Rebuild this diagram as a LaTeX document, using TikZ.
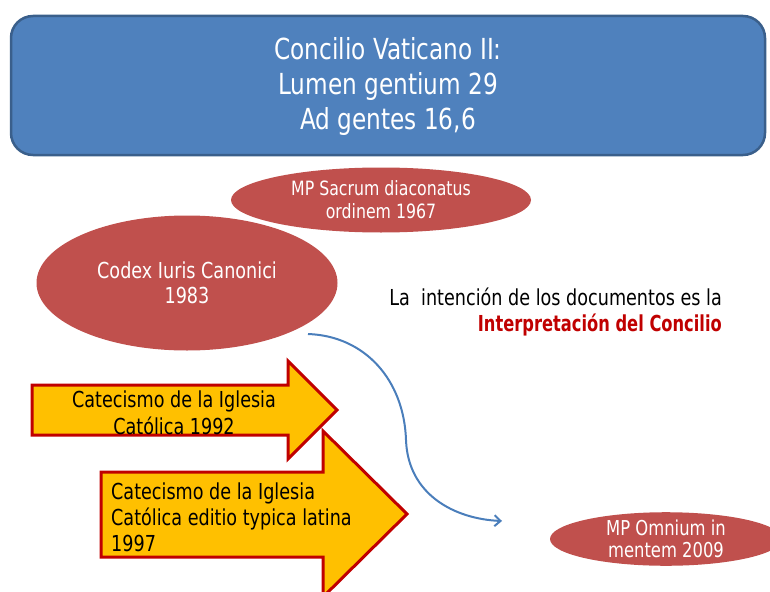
\documentclass[tikz,border=0pt]{standalone}
\usepackage{fontspec}
\setmainfont{DejaVu Sans}[FakeStretch=0.8]
\newfontfamily\tightbold{DejaVu Sans Bold}[FakeStretch=0.74]
\usetikzlibrary{shapes.geometric, arrows.meta}

\definecolor{titleblue}{HTML}{4F81BD}
\definecolor{titleedge}{HTML}{3A5F8B}
\definecolor{docred}{HTML}{C0504D}
\definecolor{darkred}{HTML}{C00000}
\definecolor{arrowyellow}{HTML}{FFC000}
\definecolor{curveblue}{HTML}{4A7EBB}

\tikzset{
  docellipse/.style={ellipse, fill=docred, text=white, inner sep=0pt, align=center},
  bigarrow/.style={fill=arrowyellow, draw=darkred, line width=3pt, line join=miter},
}

\begin{document}
\begin{tikzpicture}[x=1pt, y=-1pt]
        \useasboundingbox (0,0) rectangle (770,591);
        \clip (0,0) rectangle (770,591);
        % title box
        \draw[fill=titleblue, draw=titleedge, line width=2.5pt, rounded corners=22pt]
            (11,16) rectangle (765,155);
        \node[text=white, align=center, font=\fontsize{29}{35}\selectfont] (concilio) at (388,86)
            {Concilio Vaticano II:\\Lumen gentium 29\\Ad gentes 16,6};
        % documents
        \node[docellipse, minimum width=300pt, minimum height=65pt,
            font=\fontsize{19.7}{23}\selectfont] (sacrum) at (381,200)
            {MP Sacrum diaconatus\\ordinem 1967};
        \node[docellipse, minimum width=301pt, minimum height=135pt,
            font=\fontsize{22}{25}\selectfont] (codex) at (187,283)
            {Codex Iuris Canonici\\1983};
        \node[docellipse, minimum width=232pt, minimum height=52pt,
            font=\fontsize{20.5}{22}\selectfont] (omnium) at (666,539)
            {MP Omnium in\\mentem 2009};
        \node[align=right, anchor=east, inner sep=0pt, font=\fontsize{22}{26}\selectfont] (intencion) at (722,312)
            {La\ \ intención de los documentos es la\\
             \textcolor{darkred}{\tightbold Interpretación del Concilio}\hspace{3pt}};
        % catechism arrows
        \draw[bigarrow] (32,385) -- (288,385) -- (288,361) -- (337,410) -- (288,459)
            -- (288,435) -- (32,435) -- cycle;
        \draw[bigarrow] (101,472) -- (323,472) -- (323,431) -- (407,514) -- (323,597)
            -- (323,557) -- (101,557) -- cycle;
        \node[align=center, inner sep=0pt, font=\fontsize{22}{27}\selectfont] (cat92) at (174,413)
            {Catecismo de la Iglesia\\Católica 1992};
        \node[align=left, anchor=west, inner sep=0pt, font=\fontsize{22}{26}\selectfont] (cat97) at (111,517)
            {Catecismo de la Iglesia\\Católica editio typica latina\\1997};
        % interpretation curve
        \coordinate (cfrom) at (308,334);
        \coordinate (cto) at (502,521);
        \draw[curveblue, line width=2pt, -{Straight Barb[length=6pt, width=11pt]}]
            (cfrom) .. controls (365,336) and (404,380) .. (406,440)
            .. controls (408,495) and (455,519) .. (cto);
    \end{tikzpicture}
\end{document}
